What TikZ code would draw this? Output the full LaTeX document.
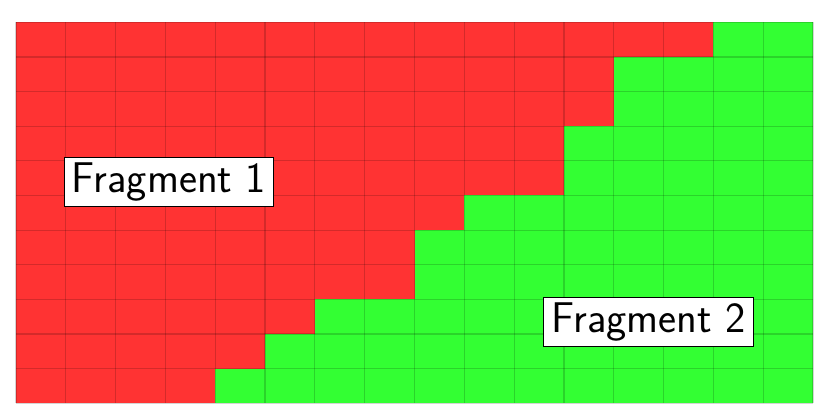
\documentclass[tikz,border=0pt]{standalone}
\definecolor{redc}{RGB}{255,51,51}
\definecolor{greenc}{RGB}{51,255,51}
\tikzset{
  gridline/.style={draw=black, draw opacity=0.17, line width=1.2pt},
  fraglabel/.style={draw=black, fill=white, line width=1pt, inner xsep=7.5pt, inner ysep=5.5pt,
    font=\sffamily\fontsize{43}{50}\selectfont}
}
\begin{document}
\begin{tikzpicture}[x=1pt,y=1pt]
\useasboundingbox (0,0) rectangle (830,420);
\begin{scope}[shift={(16,397.7)}, x=49.8125pt, y=-34.636pt]
  \foreach \r/\n in {0/14,1/12,2/12,3/11,4/11,5/9,6/8,7/8,8/6,9/5,10/4}{
    \fill[redc] (0,\r) rectangle (\n,\r+1);
    \fill[greenc] (\n,\r) rectangle (16,\r+1);
  }
  \foreach \i in {0,...,16}{ \draw[gridline] (\i,0) -- (\i,11); }
  \foreach \j in {0,...,11}{ \draw[gridline] (0,\j) -- (16,\j); }
\end{scope}
\node[fraglabel] (f1) at (169,238) {Fragment 1};
\node[fraglabel] (f2) at (648.5,98) {Fragment 2};
\end{tikzpicture}
\end{document}
